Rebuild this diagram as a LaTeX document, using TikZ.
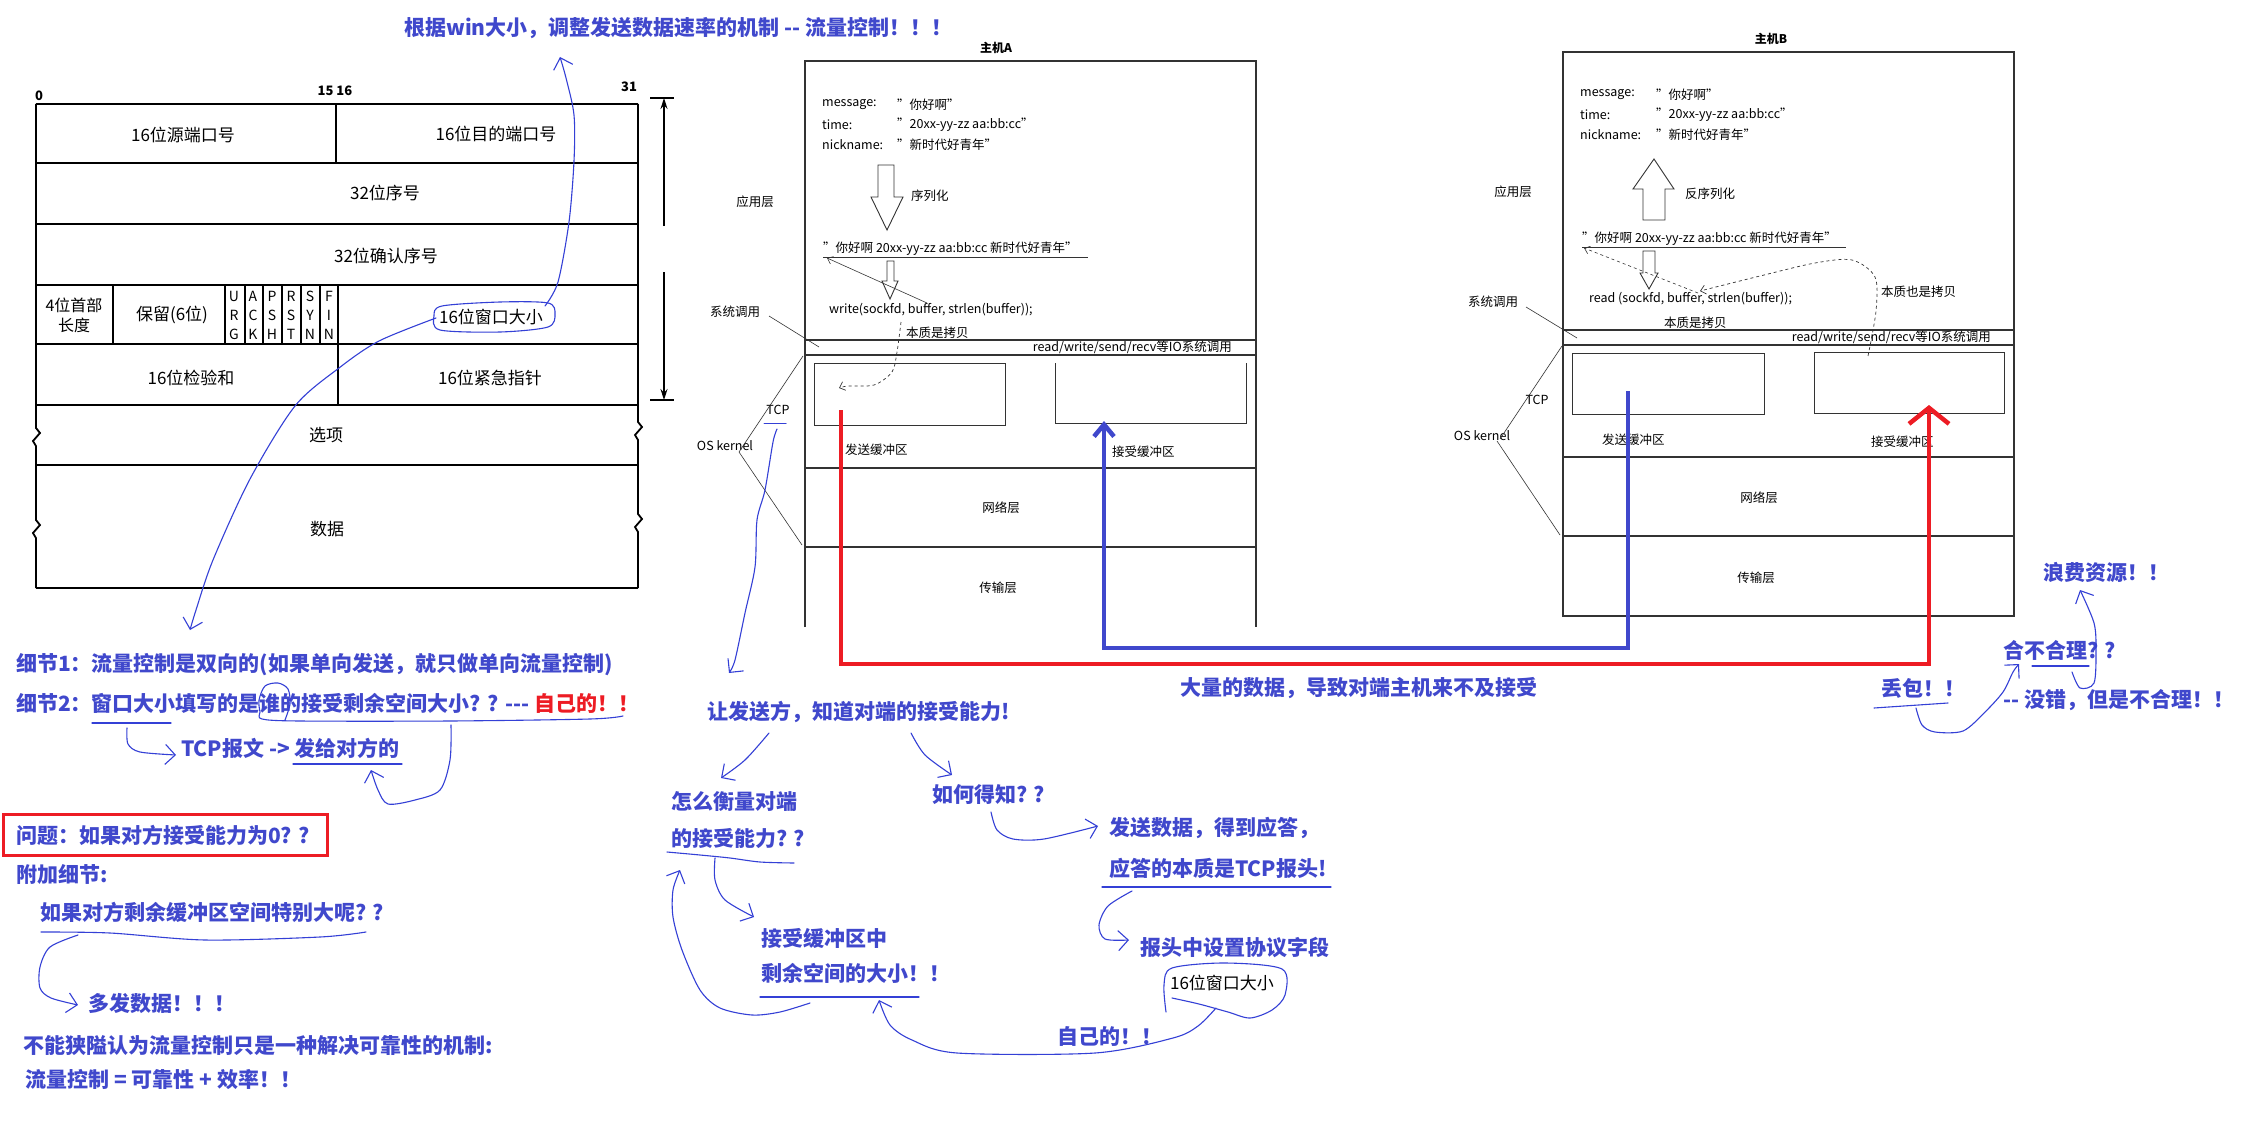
\documentclass[tikz,border=0pt]{standalone}
\usepackage{fontspec}
\setmainfont{Noto Sans CJK SC}
\usetikzlibrary{arrows.meta}
\definecolor{tblue}{RGB}{64,72,204}
\definecolor{hblue}{RGB}{52,64,214}
\definecolor{tred}{RGB}{237,28,36}
\begin{document}
\begin{tikzpicture}[x=1pt,y=-1pt,
  hdrl/.style={draw=black, line width=1.8pt},
  hdr/.style={font=\fontsize{17}{19}\selectfont, inner sep=0pt},
  flag/.style={font=\fontsize{14}{15}\selectfont, inner sep=0pt},
  frame/.style={draw=black!80, line width=1.2pt},
  fineline/.style={draw=black!80, line width=0.8pt},
  htitle/.style={font=\bfseries\fontsize{12}{14}\selectfont, inner sep=0pt},
  htxt/.style={font=\fontsize{12.5}{14}\selectfont, anchor=west, inner sep=0pt},
  hlab/.style={font=\fontsize{12.5}{14}\selectfont, inner sep=0pt},
  btxt/.style={text=tblue, font=\bfseries\fontsize{21}{24}\selectfont, anchor=west, inner sep=0pt},
  hand/.style={draw=hblue, line width=1.1pt, line cap=round, line join=round},
  harrow/.style={hand, -{Straight Barb[length=10pt,width=20pt,line width=1.1pt]}},
  redthick/.style={draw=tred, line width=4.5pt},
  bluethick/.style={draw=tblue, line width=4.5pt},
  hollow/.style={draw=black!80, line width=0.9pt, fill=white}
]
\useasboundingbox (0,0) rectangle (2242,1126);
\fill[white] (0,0) rectangle (2242,1126);

%================ TCP header ================
\node[font=\bfseries\fontsize{13}{14}\selectfont, inner sep=0pt] (b0) at (39,96) {0};
\node[font=\bfseries\fontsize{13}{14}\selectfont, inner sep=0pt] (b15) at (335,91) {15\ 16};
\node[font=\bfseries\fontsize{13}{14}\selectfont, inner sep=0pt] (b31) at (629,87) {31};
\foreach \yy in {104,163,224,285,344,405,465,588} \draw[hdrl] (36,\yy) -- (638,\yy);
\draw[hdrl] (36,104) -- (36,428) -- (40,433) -- (33,441) -- (36,446) -- (36,520) -- (40,525) -- (33,533) -- (36,538) -- (36,588);
\draw[hdrl] (638,104) -- (638,422) -- (642,427) -- (635,435) -- (638,440) -- (638,514) -- (642,519) -- (635,527) -- (638,532) -- (638,588);
\draw[hdrl] (336,104) -- (336,163);
\foreach \xx in {113,225,245,263,282,301,320,338} \draw[hdrl] (\xx,285) -- (\xx,344);
\draw[hdrl] (338,344) -- (338,405);
\node[hdr] (sport) at (183,135) {16位源端口号};
\node[hdr] (dport) at (496,134) {16位目的端口号};
\node[hdr] (seq) at (385,193) {32位序号};
\node[hdr] (ack) at (386,256) {32位确认序号};
\node[hdr, align=center, font=\fontsize{16}{20}\selectfont] (hlen) at (74,315) {4位首部\\长度};
\node[hdr] (resv) at (172,315) {保留(6位)};
\foreach \xx/\a/\b/\c [count=\i] in {234/U/R/G,253/A/C/K,272/P/S/H,291/R/S/T,310/S/Y/N,329/F/I/N} {
  \node[flag] (fa\i) at (\xx,296) {\a};
  \node[flag] (fb\i) at (\xx,315) {\b};
  \node[flag] (fc\i) at (\xx,334) {\c};
}
\node[hdr] (win) at (491,317) {16位窗口大小};
\node[hdr] (csum) at (191,378) {16位检验和};
\node[hdr] (urg) at (490,378) {16位紧急指针};
\node[hdr] (opt) at (326,435) {选项};
\node[hdr] (data) at (327,529) {数据};
% side arrow
\coordinate (va1) at (664,98); \coordinate (va2) at (664,226);
\coordinate (va3) at (664,272); \coordinate (va4) at (664,400);
\draw[draw=black, line width=1.2pt, -{Stealth[length=11pt,width=7pt]}] (va2) -- (va1);
\draw[draw=black, line width=1.2pt, -{Stealth[length=11pt,width=7pt]}] (va3) -- (va4);
\draw[draw=black, line width=1.2pt] (650,98) -- (674,98) (650,400) -- (674,400);

%================ Host A ================
\node[htitle] (hA) at (996,48) {主机A};
\draw[frame] (805,627) -- (805,61) -- (1256,61) -- (1256,627);
\draw[frame] (805,340) -- (1256,340) (805,355) -- (1256,355) (805,468) -- (1256,468) (805,547) -- (1256,547);
\draw[fineline] (814,363) rectangle (1005,425);
\draw[fineline] (1055,363) -- (1055,423) -- (1246,423) -- (1246,363);
\node[htxt] (mA1) at (822,105) {message:};
\node[htxt] (mA2) at (822,125) {time:};
\node[htxt] (mA3) at (822,145) {nickname:};
\node[htxt] (vA1) at (897,105) {"你好啊"};
\node[htxt] (vA2) at (897,125) {"20xx-yy-zz aa:bb:cc"};
\node[htxt] (vA3) at (897,145) {"新时代好青年"};
\draw[hollow] (878,165) -- (894,165) -- (894,197) -- (903,197) -- (887,230) -- (871,197) -- (878,197) -- cycle;
\node[htxt] (serA) at (911,196) {序列化};
\node[hlab] (appA) at (755,202) {应用层};
\node[htxt] (strA) at (823,249) {"你好啊 20xx-yy-zz aa:bb:cc 新时代好青年"};
\draw[fineline] (823,257) -- (1088,257);
\draw[hollow] (887,261) -- (894,261) -- (894,281) -- (898,281) -- (890,299) -- (882,281) -- (887,281) -- cycle;
\node[htxt] (wrA) at (829,310) {write(sockfd, buffer, strlen(buffer));};
\coordinate (bufA) at (927,303); \coordinate (strA0) at (827,258);
\draw[fineline, line width=0.6pt, -{Straight Barb[length=5pt,width=8pt]}] (bufA) -- (strA0);
\node[hlab] (scA) at (735,312) {系统调用};
\draw[fineline, line width=0.6pt] (769,316) -- (819,347);
\node[htxt] (cpA) at (906,333) {本质是拷贝};
\draw[fineline, line width=0.7pt, dashed, -{Straight Barb[length=5pt,width=9pt]}] plot[smooth] coordinates {(901,322) (897,352) (892,372) (874,385) (848,386) (839,388)};
\node[font=\fontsize{12.5}{14}\selectfont, anchor=east, inner sep=0pt] (ioA) at (1232,347) {read/write/send/recv等IO系统调用};
\node[hlab, anchor=west] (sbA) at (845,450) {发送缓冲区};
\node[hlab, anchor=west] (rbA) at (1112,452) {接受缓冲区};
\node[hlab] (netA) at (1001,508) {网络层};
\node[hlab] (trA) at (998,588) {传输层};
\node[hlab] (tcpA) at (778,410) {TCP};
\node[hlab] (osA) at (725,446) {OS kernel};
\draw[fineline, line width=0.6pt] (739,452) -- (803,356) (739,452) -- (802,545);
\draw[hand, line width=1pt] (764,423) -- (786,423);

%================ Host B ================
\node[htitle] (hB) at (1771,39) {主机B};
\draw[frame] (1563,52) rectangle (2014,616);
\draw[frame] (1563,330) -- (2014,330) (1563,345) -- (2014,345) (1563,457) -- (2014,457) (1563,536) -- (2014,536);
\draw[fineline] (1572,353) rectangle (1764,414);
\draw[fineline] (1814,352) rectangle (2004,413);
\node[htxt] (mB1) at (1580,95) {message:};
\node[htxt] (mB2) at (1580,115) {time:};
\node[htxt] (mB3) at (1580,135) {nickname:};
\node[htxt] (vB1) at (1656,95) {"你好啊"};
\node[htxt] (vB2) at (1656,115) {"20xx-yy-zz aa:bb:cc"};
\node[htxt] (vB3) at (1656,135) {"新时代好青年"};
\draw[hollow] (1654,159) -- (1674,189) -- (1665,189) -- (1665,220) -- (1643,220) -- (1643,189) -- (1633,189) -- cycle;
\node[htxt] (dserB) at (1685,194) {反序列化};
\node[hlab] (appB) at (1513,192) {应用层};
\node[htxt] (strB) at (1582,239) {"你好啊 20xx-yy-zz aa:bb:cc 新时代好青年"};
\draw[fineline] (1582,247) -- (1846,247);
\draw[hollow] (1643,251) -- (1655,251) -- (1655,273) -- (1658,273) -- (1649,289) -- (1640,273) -- (1643,273) -- cycle;
\node[htxt] (rdB) at (1589,299) {read (sockfd, buffer, strlen(buffer));};
\coordinate (bufB) at (1698,293); \coordinate (strB0) at (1584,248);
\draw[fineline, line width=0.6pt, dashed, -{Straight Barb[length=5pt,width=8pt]}] (bufB) -- (strB0);
\draw[fineline, line width=0.7pt, dashed, -{Straight Barb[length=5pt,width=9pt]}] plot[smooth] coordinates {(1868,356) (1876,311) (1875,277) (1852,260) (1815,263) (1760,276) (1700,291)};
\node[htxt] (cp2B) at (1881,292) {本质也是拷贝};
\node[hlab] (scB) at (1493,302) {系统调用};
\draw[fineline, line width=0.6pt] (1526,307) -- (1577,338);
\node[htxt] (cpB) at (1664,323) {本质是拷贝};
\node[font=\fontsize{12.5}{14}\selectfont, anchor=east, inner sep=0pt] (ioB) at (1991,337) {read/write/send/recv等IO系统调用};
\node[hlab, anchor=west] (sbB) at (1602,440) {发送缓冲区};
\node[hlab, anchor=west] (rbB) at (1871,442) {接受缓冲区};
\node[hlab] (netB) at (1759,498) {网络层};
\node[hlab] (trB) at (1756,578) {传输层};
\node[hlab] (tcpB) at (1537,400) {TCP};
\node[hlab] (osB) at (1482,436) {OS kernel};
\draw[fineline, line width=0.6pt] (1500,439) -- (1562,346) (1497,441) -- (1560,535);

%================ thick data paths ================
\coordinate (r0) at (841,410); \coordinate (r1) at (841,664);
\coordinate (r2) at (1929,664); \coordinate (r3) at (1929,405);
\draw[redthick, -{Straight Barb[length=16pt,width=40pt]}] (r0) -- (r1) -- (r2) -- (r3);
\coordinate (u0) at (1628,391); \coordinate (u1) at (1628,648);
\coordinate (u2) at (1104,648); \coordinate (u3) at (1104,421);
\draw[bluethick, -{Straight Barb[length=12pt,width=20pt]}] (u0) -- (u1) -- (u2) -- (u3);

%================ blue annotations ================
\node[btxt] (title) at (404,28) {根据win大小，调整发送数据速率的机制 -{}- 流量控制！！！};
\draw[hand] plot[smooth cycle] coordinates {(440,330) (434,316) (442,306) (500,302) (548,303) (555,314) (548,327) (500,332)};
\draw[harrow] plot[smooth] coordinates {(545,306) (558,282) (569,222) (574,161) (574,115) (566,78) (560,57)};
\draw[harrow] plot[smooth] coordinates {(436,318) (379,341) (339,368) (295,406) (250,479) (213,560) (196,610) (190,630)};

\node[btxt] (d1) at (16,665) {细节1：流量控制是双向的(如果单向发送，就只做单向流量控制)};
\node[btxt] (d2) at (16,703) {细节2：窗口大小填写的是谁的接受剩余空间大小? ? -{}-{}- \textcolor{tred}{自己的！！}};
\draw[hand] (92,723) -- (171,723);
\draw[hand] plot[smooth] coordinates {(285,720) (290,704) (288,689) (278,683) (265,686) (259,700) (260,712) (262,719) (300,721) (450,721) (590,719) (623,716)};
\draw[harrow] plot[smooth] coordinates {(127,728) (128,744) (140,752) (176,755)};
\node[btxt] (tcpmsg) at (181,748) {TCP报文 -> 发给对方的};
\draw[hand] (293,764) -- (402,764);
\draw[harrow] plot[smooth] coordinates {(451,725) (450,760) (440,790) (415,800) (388,804) (378,790) (371,770)};

\node[btxt] (q) at (16,835) {问题：如果对方接受能力为0? ?};
\draw[draw=tred, line width=3pt] (3,814) rectangle (327,855);
\node[btxt] (add) at (16,874) {附加细节:};
\node[btxt] (big) at (40,912) {如果对方剩余缓冲区空间特别大呢? ?};
\draw[hand] plot[smooth] coordinates {(41,932) (110,933) (205,940) (320,937) (366,932)};
\draw[harrow] plot[smooth] coordinates {(78,935) (50,947) (40,967) (40,988) (51,998) (78,1005)};
\node[btxt] (more) at (88,1003) {多发数据！！！};
\node[btxt] (narrow) at (23,1045) {不能狭隘认为流量控制只是一种解决可靠性的机制:};
\node[btxt] (eq) at (25,1080) {流量控制 = 可靠性 + 效率！！};

% middle flow
\draw[harrow] plot[smooth] coordinates {(777,429) (773,442) (765,490) (757,520) (755,567) (745,613) (735,660) (729,673)};
\node[btxt] (let) at (707,712) {让发送方，知道对端的接受能力!};
\draw[harrow] plot[smooth] coordinates {(769,733) (745,760) (721,778)};
\draw[harrow] plot[smooth] coordinates {(911,733) (925,755) (952,775)};
\node[btxt] (how) at (671,802) {怎么衡量对端};
\node[btxt] (how2) at (671,838) {的接受能力? ?};
\draw[hand] plot[smooth] coordinates {(667,852) (700,855) (730,858) (760,862) (794,863)};
\node[btxt] (know) at (932,795) {如何得知? ?};
\draw[harrow] plot[smooth] coordinates {(991,812) (997,830) (1013,839) (1044,839) (1098,826)};
\node[btxt] (send) at (1109,828) {发送数据，得到应答，};
\node[btxt] (send2) at (1109,868) {应答的本质是TCP报头!};
\draw[hand] (1102,887) -- (1331,887);
\draw[harrow] plot[smooth] coordinates {(1132,891) (1108,906) (1099,925) (1105,939) (1129,940)};
\node[btxt] (field) at (1140,947) {报头中设置协议字段};
\node[hdr] (win2) at (1222,983) {16位窗口大小};
\draw[hand] plot[smooth] coordinates {(1166,1012) (1164,985) (1172,968) (1225,963) (1282,969) (1285,995) (1272,1010) (1250,1018) (1228,1012) (1199,1004) (1172,998)};
\draw[harrow] plot[smooth] coordinates {(1216,1008) (1198,1026) (1173,1038) (1095,1053) (957,1053) (912,1040) (890,1025) (879,1000)};
\node[btxt] (own) at (1057,1036) {自己的！！};
\node[btxt] (rcv) at (761,938) {接受缓冲区中};
\node[btxt] (rcv2) at (761,973) {剩余空间的大小！！};
\draw[hand] (760,997) -- (919,997);
\draw[harrow] plot[smooth] coordinates {(715,858) (715,880) (725,900) (754,917)};
\draw[harrow] plot[smooth] coordinates {(810,1003) (780,1012) (752,1015) (720,1008) (700,990) (682,950) (673,917) (673,890) (680,870)};

% right side
\node[btxt] (lots) at (1180,688) {大量的数据，导致对端主机来不及接受};
\node[btxt] (drop) at (1881,688) {丢包！！};
\draw[hand] (1874,708) -- (1948,703);
\draw[harrow] plot[smooth] coordinates {(1916,708) (1922,725) (1935,732) (1963,731) (1985,712) (2003,692) (2013,672) (2019,664)};
\node[btxt] (reason) at (2003,650) {合不合理? ?};
\draw[hand] (2032,666) -- (2089,666);
\node[btxt] (right) at (2003,700) {-{}- 没错，但是不合理！！};
\draw[harrow] plot[smooth] coordinates {(2072,672) (2080,688) (2094,683) (2096,650) (2094,623) (2080,590)};
\node[btxt] (waste) at (2043,572) {浪费资源！！};
\end{tikzpicture}
\end{document}
